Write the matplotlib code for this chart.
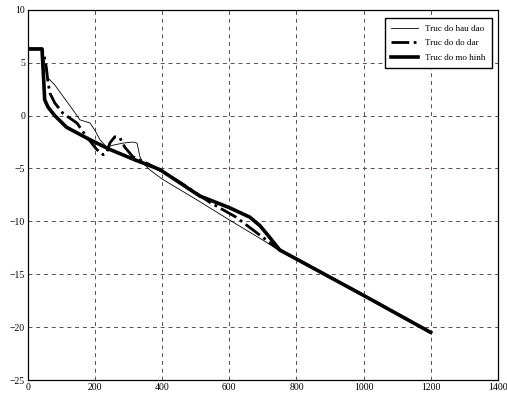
import matplotlib
matplotlib.use("Agg")
import matplotlib.pyplot as plt

# track (x, y)
meas_x = [0, 42, 50, 56, 80, 135, 155, 185, 200, 215, 235, 253, 283, 313, 325, 334, 343, 362,
          400, 500, 602, 712, 745, 1000, 1200]
meas_y = [6.3, 6.3, 5.0, 3.7, 2.9, 0.5, -0.4, -0.7, -1.4, -2.3, -3.0, -2.8, -2.6, -2.5, -2.6, -3.9, -4.5, -5.1,
          -6.0, -7.9, -9.9, -12.0, -12.7, -17.0, -20.5]

radar_x = [0, 42, 52, 56, 60, 66, 80, 105, 146, 175, 205, 224, 235, 244, 259, 274, 289, 313, 354, 390,
           453, 542, 620, 712, 750, 1000, 1200]
radar_y = [6.3, 6.3, 5.2, 4.3, 3.1, 2.1, 1.2, 0.2, -0.7, -2.0, -3.2, -3.7, -3.5, -2.6, -2.0, -2.1, -3.0, -3.9, -4.5, -5.1,
           -6.3, -8.2, -9.6, -11.8, -12.7, -17.0, -20.5]

model_x = [0, 42, 46, 50, 60, 80, 115, 180, 244, 320, 393, 450, 512, 600, 661, 691, 720, 750, 1000, 1200]
model_y = [6.3, 6.3, 4.0, 1.5, 0.8, 0.0, -1.1, -2.2, -3.2, -4.2, -5.1, -6.3, -7.6, -8.7, -9.6, -10.4, -11.5, -12.7, -17.0, -20.5]

labels = ["Truc do hau dao", "Truc do do dar", "Truc do mo hinh"]
xticks = [0, 200, 400, 600, 800, 1000, 1200, 1400]
yticks = [-25, -20, -15, -10, -5, 0, 5, 10]


def main():
    plt.rcParams["font.family"] = ["Liberation Serif", "DejaVu Serif"]
    fig = plt.figure(figsize=(5.07, 3.93), dpi=100)
    ax = fig.add_axes([0.055, 0.033, 0.927, 0.942])

    ax.plot(meas_x, meas_y, color="black", lw=0.6, label=labels[0])
    ax.plot(radar_x, radar_y, color="black", lw=2.0, ls="-.", label=labels[1])
    ax.plot(model_x, model_y, color="black", lw=2.6, label=labels[2])

    ax.set_xlim(0, 1400)
    ax.set_ylim(-25, 10)
    ax.set_xticks(xticks)
    ax.set_yticks(yticks)
    ax.tick_params(labelsize=7, length=0, pad=2)
    ax.grid(True, ls=(0, (4, 4)), color="#5a4a5a", lw=0.7)
    for s in ax.spines.values():
        s.set_linewidth(0.9)

    ax.legend(loc="upper right", fontsize=6.5, frameon=True, fancybox=False,
              edgecolor="black", framealpha=1, handlelength=3,
              borderpad=0.7, labelspacing=0.7, bbox_to_anchor=(0.997, 0.99))

    fig.savefig("out.png", dpi=100)


if __name__ == '__main__':
    main()
